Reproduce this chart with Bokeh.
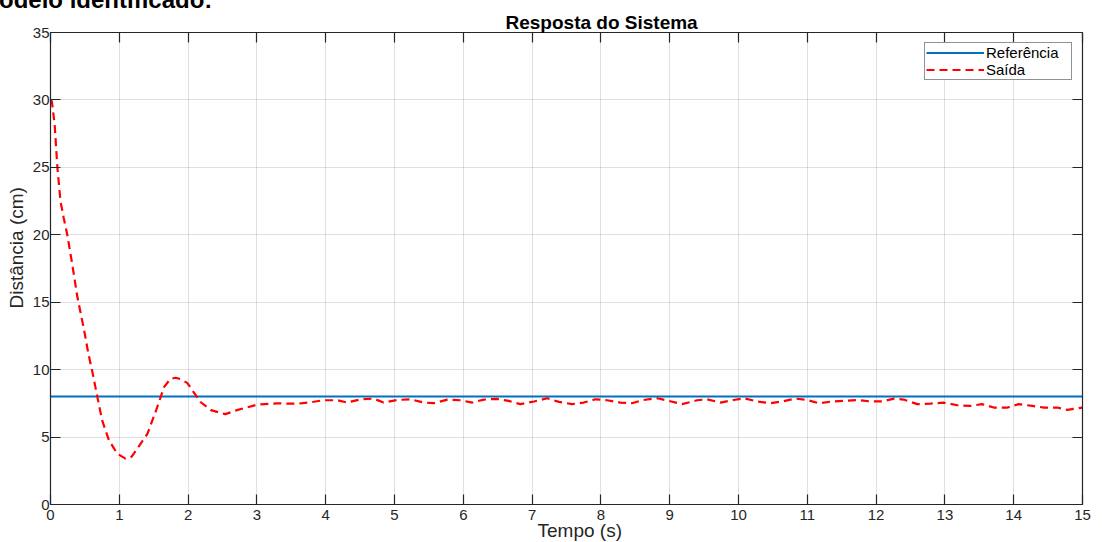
from bokeh.plotting import figure
from bokeh.models import (Range1d, LinearAxis, Legend, LegendItem, FixedTicker,
                          Title, Div, CustomJSTickFormatter)
from bokeh.layouts import column
from bokeh.embed import file_html
from bokeh.resources import INLINE

# --- data -------------------------------------------------------------
tempo_s = [0, 0.02, 0.06, 0.10, 0.145, 0.19, 0.24, 0.315, 0.39, 0.48,
           0.55, 0.61, 0.68, 0.75, 0.85, 0.97, 1.09, 1.18, 1.26, 1.41,
           1.55, 1.65, 1.74, 1.82, 1.89, 1.99, 2.18, 2.33, 2.54, 2.71,
           3.0, 3.29, 3.58, 3.8, 3.97, 4.17, 4.31, 4.51, 4.70, 4.84,
           5.04, 5.23, 5.43, 5.57, 5.77, 5.96, 6.13, 6.30, 6.49, 6.66,
           6.83, 7.03, 7.22, 7.39, 7.58, 7.75, 7.92, 8.09, 8.28, 8.45,
           8.62, 8.82, 8.99, 9.18, 9.40, 9.54, 9.74, 9.93, 10.08, 10.27,
           10.47, 10.63, 10.83, 11.0, 11.17, 11.36, 11.53, 11.73, 11.92, 12.09,
           12.26, 12.40, 12.60, 12.79, 12.98, 13.18, 13.37, 13.54, 13.71, 13.91,
           14.07, 14.27, 14.44, 14.63, 14.78, 15.0]

saida_cm = [30.0, 29.9, 28.2, 25.0, 22.5, 21.3, 20.1, 17.85, 15.4, 13.15,
            11.2, 9.8, 8.0, 6.25, 4.76, 3.77, 3.4, 3.55, 4.14, 5.25,
            7.2, 8.7, 9.3, 9.4, 9.3, 9.0, 7.6, 7.0, 6.7, 7.0,
            7.4, 7.5, 7.47, 7.6, 7.73, 7.73, 7.56, 7.80, 7.85, 7.56,
            7.75, 7.80, 7.56, 7.51, 7.78, 7.73, 7.56, 7.78, 7.83, 7.68,
            7.44, 7.64, 7.88, 7.61, 7.44, 7.56, 7.80, 7.73, 7.56, 7.51,
            7.75, 7.88, 7.68, 7.44, 7.73, 7.80, 7.56, 7.75, 7.88, 7.64,
            7.51, 7.64, 7.85, 7.75, 7.51, 7.64, 7.68, 7.75, 7.64, 7.64,
            7.85, 7.78, 7.44, 7.48, 7.56, 7.36, 7.31, 7.44, 7.19, 7.19,
            7.44, 7.31, 7.19, 7.19, 7.02, 7.19]

ref_tempo_s = [0, 15]
referencia_cm = [8, 8]

x_ticks = list(range(0, 16))
y_ticks = list(range(0, 36, 5))

FONT = "Liberation Sans"
AX_COLOR = "#262626"

# --- figure -----------------------------------------------------------
p = figure(width=1102, height=533, output_backend="svg", toolbar_location=None,
           x_range=Range1d(0, 15), y_range=Range1d(0, 35),
           min_border_left=50, min_border_right=20,
           min_border_top=23, min_border_bottom=38)
p.background_fill_color = "white"
p.border_fill_color = "white"
p.outline_line_color = None


def style_axis(ax, ticks, show_labels, standoff):
    ax.ticker = FixedTicker(ticks=ticks)
    ax.axis_line_color = AX_COLOR
    ax.axis_line_width = 1.2
    ax.major_tick_line_color = AX_COLOR
    ax.major_tick_line_width = 1.2
    ax.major_tick_in = 10
    ax.major_tick_out = 0
    ax.minor_tick_line_color = None
    ax.major_label_text_font = FONT
    ax.major_label_text_color = AX_COLOR
    ax.major_label_standoff = standoff
    if show_labels:
        ax.major_label_text_font_size = "15px"
    else:
        # box edges: ticks only, no numbers
        ax.formatter = CustomJSTickFormatter(code="return ''")
        ax.major_label_text_font_size = "1px"


style_axis(p.below[0], x_ticks, True, 5)
style_axis(p.left[0], y_ticks, True, 1)

top_axis = LinearAxis()
style_axis(top_axis, x_ticks, False, 0)
p.add_layout(top_axis, "above")

right_axis = LinearAxis()
style_axis(right_axis, y_ticks, False, 0)
p.add_layout(right_axis, "right")

p.xgrid.ticker = FixedTicker(ticks=x_ticks)
p.ygrid.ticker = FixedTicker(ticks=y_ticks)
for g in (p.xgrid, p.ygrid):
    g.grid_line_color = AX_COLOR
    g.grid_line_alpha = 0.15
    g.grid_line_width = 1

# --- titles and axis names --------------------------------------------
p.title = Title(text="Resposta do Sistema", align="left", offset=455,
                standoff=0, vertical_align="bottom", text_font=FONT,
                text_font_style="bold", text_font_size="19px",
                text_color="black")
p.add_layout(Title(text="Tempo (s)", align="left", offset=487, standoff=-6,
                   vertical_align="top", text_font=FONT,
                   text_font_style="normal", text_font_size="19px",
                   text_color=AX_COLOR), "below")
p.add_layout(Title(text="Distância (cm)", align="left", offset=196,
                   standoff=6, vertical_align="bottom", text_font=FONT,
                   text_font_style="normal", text_font_size="19px",
                   text_color=AX_COLOR), "left")

# --- series -----------------------------------------------------------
r_ref = p.line(ref_tempo_s, referencia_cm, line_color="#0072BD", line_width=2)
r_out = p.line(tempo_s, saida_cm, line_color="#FF0000", line_width=2.2,
               line_dash="8 5")

legend = Legend(items=[LegendItem(label="Referência", renderers=[r_ref]),
                       LegendItem(label="Saída", renderers=[r_out])],
                location="top_right", margin=10, padding=1, spacing=0,
                glyph_width=58, glyph_height=13, label_height=13,
                label_standoff=2, label_width=84,
                label_text_font=FONT, label_text_font_size="15px",
                label_text_color="black",
                border_line_color=AX_COLOR, border_line_width=1,
                background_fill_color="white", background_fill_alpha=1)
p.add_layout(legend)

# --- heading strip above the chart --------------------------------------
header = Div(
    text=("<div style=\"position:relative;top:-12px;left:-21px;"
          "white-space:nowrap;font-family:'Liberation Sans';font-weight:bold;"
          "font-size:24px;line-height:24px;color:black\">"
          "Modelo identificado:</div>"),
    width=1102, height=9, margin=0, styles={"overflow": "hidden"})

layout = column(header, p, spacing=0)

open("out.html", "w").write(file_html(layout, INLINE))
